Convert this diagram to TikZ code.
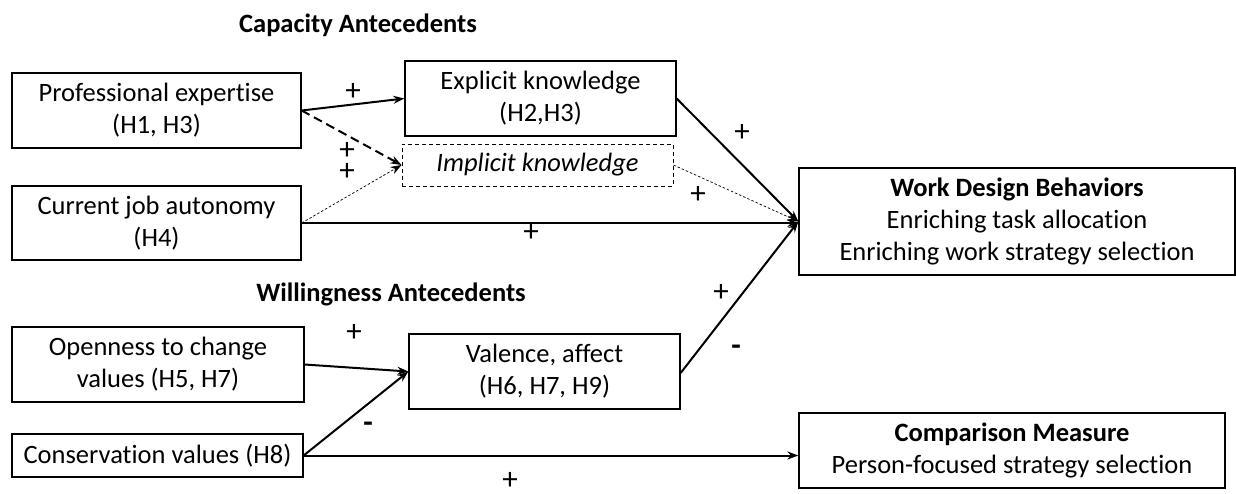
\documentclass[tikz,border=0pt]{standalone}
\usepackage{fontspec}
\setmainfont{Carlito}[Ligatures={NoCommon}]
\usetikzlibrary{arrows.meta}
\begin{document}
\begin{tikzpicture}[x=1pt,y=-1pt,
  box/.style={draw,line width=1.3pt,rectangle,inner sep=0pt,align=center,font=\fontsize{26.5}{32}\selectfont},
  dbox/.style={box,dashed,line width=1pt,dash pattern=on 4pt off 3pt},
  title/.style={font=\fontsize{26.5}{30}\selectfont\bfseries},
  lbl/.style={font=\fontsize{31}{34}\selectfont,inner sep=0pt},
  arr/.style={line width=2pt,-{Stealth[length=11pt,width=8pt]}},
  darr/.style={arr,dash pattern=on 9pt off 5pt},
  tarr/.style={line width=0.7pt,dash pattern=on 2.5pt off 2pt,-{Stealth[length=11pt,width=8pt]}}
]
\useasboundingbox (0,0) rectangle (1236,493);
\node[title] (capt) at (358,25) {Capacity Antecedents};
\node[title] (willt) at (391,294) {Willingness Antecedents};
\node[box,minimum width=289pt,minimum height=75pt] (prof) at (156.5,110.5) {Professional expertise\\(H1, H3)};
\node[box,minimum width=289pt,minimum height=74pt] (cur) at (156.5,223) {Current job autonomy\\(H4)};
\node[box,minimum width=271pt,minimum height=75pt] (expl) at (540.5,98.5) {Explicit knowledge\\(H2,H3)};
\node[dbox,minimum width=271pt,minimum height=42pt] (impl) at (537.5,165) {\itshape Implicit knowledge};
\node[box,minimum width=436pt,minimum height=107pt] (wdb) at (1017,221.5) {\textbf{Work Design Behaviors}\\Enriching task allocation\\Enriching work strategy selection};
\node[box,minimum width=292pt,minimum height=75pt] (open) at (158,364.5) {Openness to change\\values (H5, H7)};
\node[box,minimum width=291pt,minimum height=43pt] (cons) at (157.5,455.5) {Conservation values (H8)};
\node[box,minimum width=271pt,minimum height=75pt] (val) at (544.5,371.5) {Valence, affect\\(H6, H7, H9)};
\node[box,minimum width=426pt,minimum height=75pt] (comp) at (1012,450.5) {\textbf{Comparison Measure}\\Person-focused strategy selection};
\coordinate (hub) at (wdb.west);
\draw[arr] (prof.east) -- (expl.west);
\draw[darr] (prof.east) -- (impl.west);
\draw[tarr] (cur.east) -- (impl.west);
\draw[arr] (cur.east) -- (cur.east -| hub);
\draw[arr] (expl.east) -- (hub);
\draw[tarr] (impl.east) -- (hub);
\draw[arr] ([yshift=-1.5pt]val.east) -- (hub);
\draw[arr] (open.east) -- (val.west);
\draw[arr] (cons.east) -- (val.west);
\draw[arr] (cons.east) -- (cons.east -| comp.west);
\node[lbl] (l1) at (353,92) {+};
\node[lbl,align=center,font=\fontsize{31}{21}\selectfont] (l2) at (347,161.5) {+\\+};
\node[lbl] (l4) at (531,233) {+};
\node[lbl] (l5) at (742,133) {+};
\node[lbl] (l6) at (698,195) {+};
\node[lbl] (l7) at (721,293) {+};
\node[lbl] (l8) at (736,350) {\textbf{-}};
\node[lbl] (l9) at (354,333) {+};
\node[lbl] (l10) at (368,427) {\textbf{-}};
\node[lbl] (l11) at (510,481) {+};
\end{tikzpicture}
\end{document}
